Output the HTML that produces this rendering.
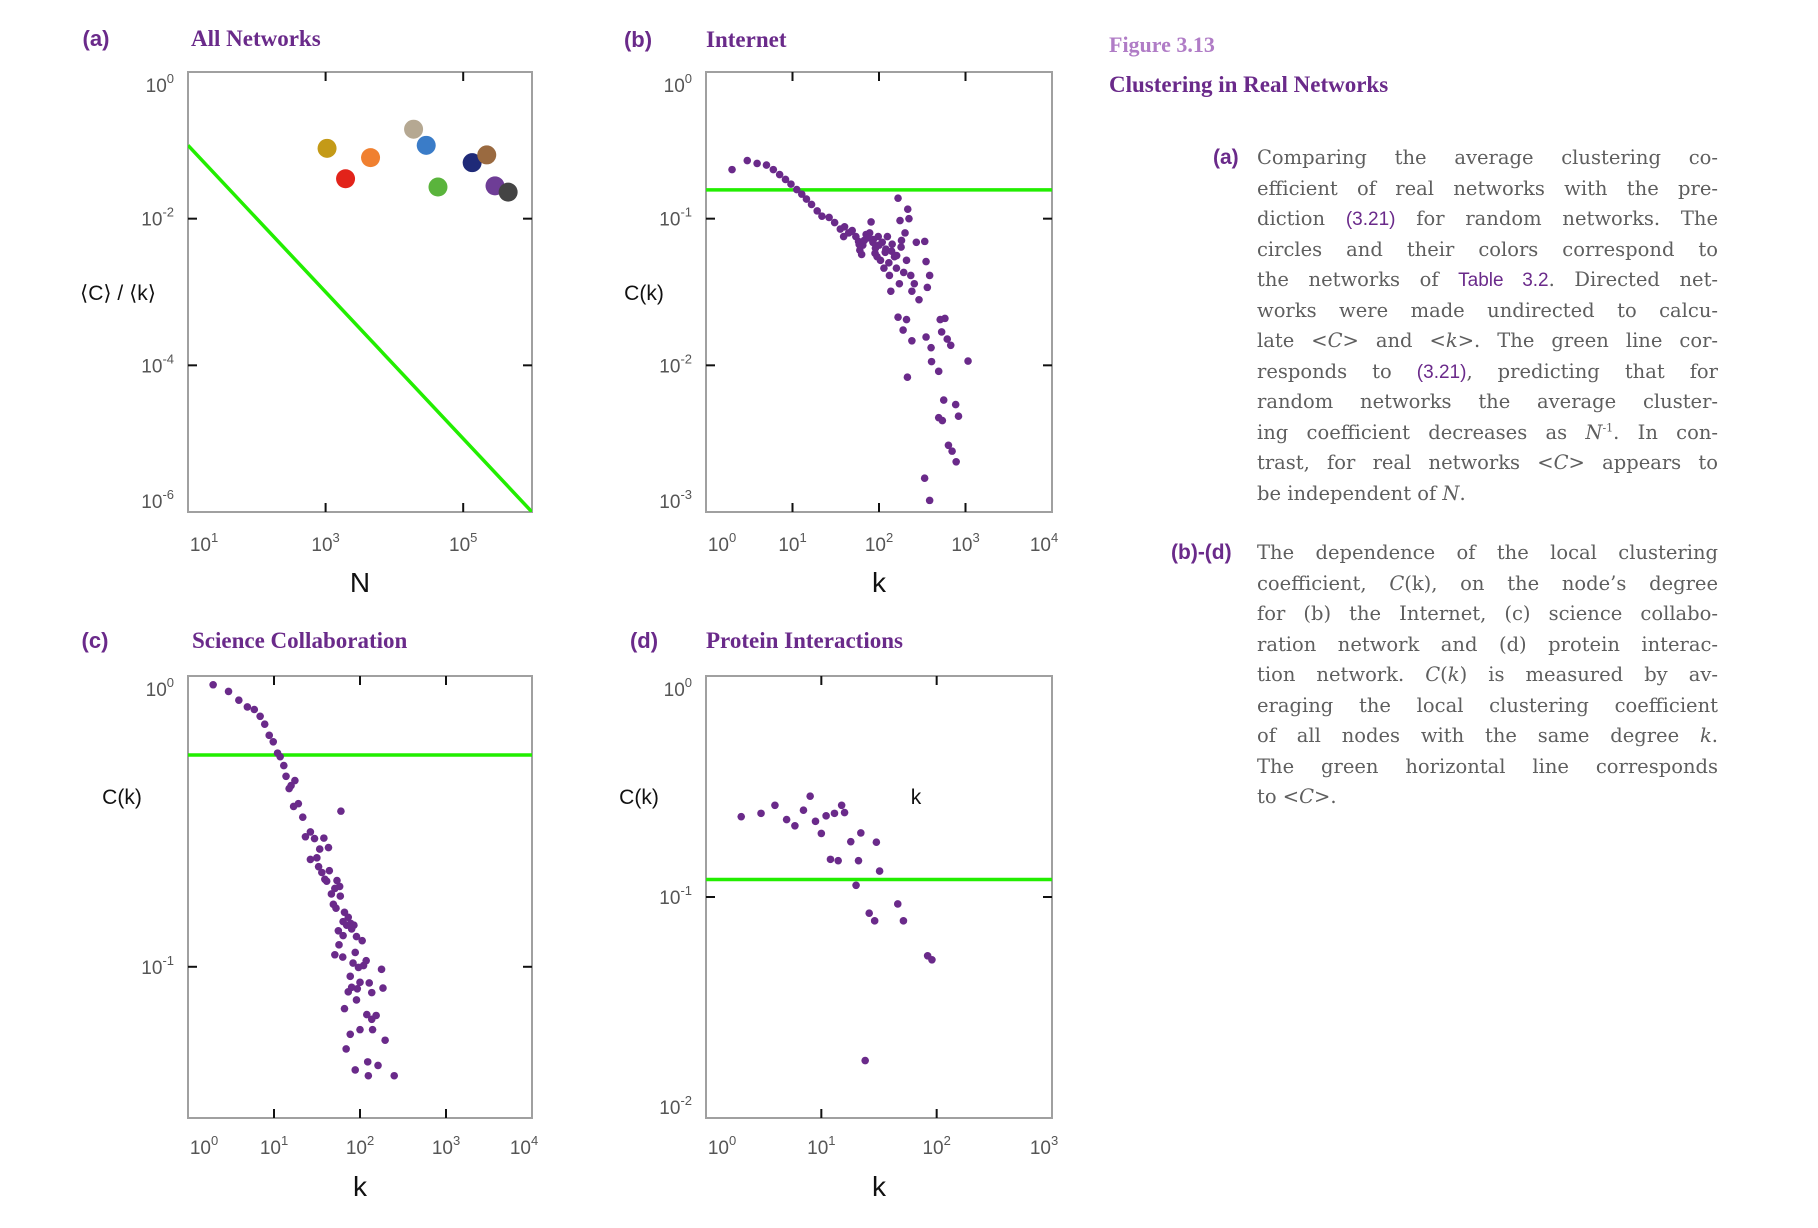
<!DOCTYPE html>
<html><head><meta charset="utf-8">
<style>
html,body{margin:0;padding:0;background:#fff;}
body{width:1818px;height:1228px;position:relative;overflow:hidden;}
svg text{font-family:"Liberation Sans",sans-serif;}
.cap{position:absolute;font-family:"DejaVu Serif",serif;color:#5e5e5e;font-size:19.5px;}
.ln{height:30.5px;line-height:30.5px;text-align:justify;text-align-last:justify;white-space:nowrap;}
.ln.last{text-align-last:left;}
.ln sup{line-height:0;font-size:11px;}
.p{color:#6a2a8a;font-family:"Liberation Sans",sans-serif;font-size:19px;}
</style></head>
<body>
<svg id="fig" width="1818" height="1228" style="position:absolute;left:0;top:0"></svg>

<div class="cap" style="left:1109px;top:32px;font-weight:bold;color:#b07cc6;font-size:22px;font-family:'Liberation Serif',serif;">Figure 3.13</div>
<div class="cap" style="left:1109px;top:72px;font-weight:bold;color:#6a2a8a;font-size:23px;font-family:'Liberation Serif',serif;">Clustering in Real Networks</div>

<div class="cap" style="left:1213px;top:143px;line-height:30.5px;color:#6a2a8a;font-family:'Liberation Sans',sans-serif;font-weight:bold;font-size:21px;">(a)</div>
<div class="cap" style="left:1257px;top:143px;width:461px;">
<div class="ln">Comparing the average clustering co-</div>
<div class="ln">efficient of real networks with the pre-</div>
<div class="ln">diction <span class="p">(3.21)</span> for random networks. The</div>
<div class="ln">circles and their colors correspond to</div>
<div class="ln">the networks of <span class="p">Table 3.2</span>. Directed net-</div>
<div class="ln">works were made undirected to calcu-</div>
<div class="ln">late &lt;<i>C</i>&gt; and &lt;<i>k</i>&gt;. The green line cor-</div>
<div class="ln">responds to <span class="p">(3.21)</span>, predicting that for</div>
<div class="ln">random networks the average cluster-</div>
<div class="ln">ing coefficient decreases as <i>N</i><sup>-1</sup>. In con-</div>
<div class="ln">trast, for real networks &lt;<i>C</i>&gt; appears to</div>
<div class="ln last">be independent of <i>N</i>.</div>
</div>

<div class="cap" style="left:1171px;top:538px;line-height:30.5px;color:#6a2a8a;font-family:'Liberation Sans',sans-serif;font-weight:bold;font-size:21px;">(b)-(d)</div>
<div class="cap" style="left:1257px;top:538px;width:461px;">
<div class="ln">The dependence of the local clustering</div>
<div class="ln">coefficient, <i>C</i>(k), on the node’s degree</div>
<div class="ln">for (b) the Internet, (c) science collabo-</div>
<div class="ln">ration network and (d) protein interac-</div>
<div class="ln">tion network. <i>C</i>(<i>k</i>) is measured by av-</div>
<div class="ln">eraging the local clustering coefficient</div>
<div class="ln">of all nodes with the same degree <i>k</i>.</div>
<div class="ln">The green horizontal line corresponds</div>
<div class="ln last">to &lt;<i>C</i>&gt;.</div>
</div>

<script>
// Panel (a): all networks
const netN = [1050, 1950, 4500, 19000, 29000, 43000, 135000, 220000, 290000, 450000];
const netCk = [0.091, 0.035, 0.068, 0.166, 0.100, 0.027, 0.058, 0.074, 0.028, 0.023];
const netColors = ['#c49a17','#e2231a','#f08030','#b5a892','#3a7cc8','#5ab43c','#1f2a78','#9a6a40','#6e3d96','#444444'];
// Panel (b): Internet
const inetK = [2.0,3.0,3.9,5.0,6.0,7.1,8.3,9.6,11.2,12.8,14.5,16.6,19.3,21.9,26.5,30.7,35.7,39,44.6,49,54,59,63,67.5,71,78,81,86,91,95,98,104,109,114,118,125,132,137,142,151,159,166,172,175,182,193,200,208,215,222,233,240,256,270,290,338,350,362,385,166,190,208,240,350,400,405,510,578,530,615,675,490,213,1070,560,770,490,540,830,635,700,780,337,385,40,48,58,65,75,85,100,120,140,160,180,60,90,130];
const inetC = [0.216,0.249,0.238,0.232,0.216,0.20,0.185,0.172,0.158,0.147,0.136,0.125,0.113,0.104,0.102,0.094,0.085,0.0755,0.080,0.083,0.0755,0.0667,0.057,0.071,0.078,0.080,0.095,0.072,0.063,0.055,0.0755,0.052,0.069,0.046,0.059,0.0755,0.041,0.032,0.067,0.055,0.046,0.138,0.036,0.097,0.071,0.043,0.080,0.052,0.116,0.100,0.041,0.032,0.036,0.069,0.028,0.070,0.051,0.034,0.041,0.0213,0.0174,0.0205,0.0147,0.0156,0.0132,0.0106,0.0205,0.0209,0.0169,0.0151,0.0137,0.0091,0.0083,0.0107,0.0058,0.0054,0.0044,0.0042,0.0045,0.00285,0.0026,0.0022,0.0017,0.0012,0.088,0.082,0.070,0.066,0.074,0.069,0.066,0.062,0.060,0.056,0.064,0.061,0.058,0.050];
const inetAvgC = 0.157;
// Panel (c): science collaboration
const sciK = [1.96,2.96,3.9,4.9,5.9,6.9,7.8,8.8,9.8,11,11.8,13,13.8,15,15.8,17.5,16.9,19.2,21.6,23.2,26.5,29.6,38,43,34,26.5,31.5,33,36,39,44,41,46.5,51,58,54,60,59,49,52.6,66,73,63.6,70,78,85,56,63.6,80,91,106,57,88,51,63,83,96,110,118,178,77,100,128,80,93,73,185,137,91,66,120,137,154,77,100,140,196,69,123,88,125,162,250];
const sciC = [0.933,0.885,0.826,0.783,0.767,0.727,0.683,0.625,0.594,0.543,0.528,0.492,0.452,0.410,0.42,0.437,0.356,0.364,0.327,0.280,0.291,0.276,0.277,0.257,0.254,0.234,0.237,0.221,0.211,0.20,0.214,0.197,0.178,0.186,0.189,0.198,0.343,0.175,0.164,0.159,0.154,0.148,0.143,0.139,0.141,0.139,0.133,0.128,0.135,0.127,0.123,0.119,0.112,0.110,0.108,0.103,0.0995,0.101,0.105,0.098,0.0927,0.0884,0.088,0.085,0.084,0.082,0.0845,0.0815,0.0769,0.0718,0.0685,0.066,0.068,0.0586,0.0608,0.0608,0.0559,0.0522,0.0471,0.0442,0.0422,0.0458,0.0422];
const sciAvgC = 0.535;
// Panel (d): protein interactions
const protK = [2.02,3.0,3.96,5.0,5.9,7.0,8.0,8.9,10,11,13,15,15.9,12,14,18,22,21,30,32,20,46,26,29,51.5,83.5,91,24];
const protC = [0.231,0.239,0.26,0.224,0.21,0.247,0.286,0.22,0.194,0.233,0.239,0.26,0.241,0.148,0.146,0.178,0.195,0.146,0.177,0.131,0.113,0.093,0.0845,0.078,0.078,0.0542,0.052,0.0182];
const protAvgC = 0.12;

const NS='http://www.w3.org/2000/svg';
const svg=document.getElementById('fig');
function mk(tag,attrs,parent){const e=document.createElementNS(NS,tag);for(const k in attrs)e.setAttribute(k,attrs[k]);(parent||svg).appendChild(e);return e;}
function powLabel(g,x,y,exp,anchor,name){
  const t=mk('text',{x:x,y:y,'text-anchor':anchor,'font-size':19,fill:'#555'},g);
  
  
  t.appendChild(document.createTextNode('10'));
  const s=mk('tspan',{dy:-9,'font-size':13},t);s.textContent=String(exp);
}
function panel(cfg){
  const g=mk('g',{});
  
  
  const step=cfg.step||1;
  const sx=v=>cfg.x0+(Math.log10(v)-cfg.lx0)/(cfg.lx1-cfg.lx0)*(cfg.x1-cfg.x0);
  const sy=v=>cfg.y0+(cfg.ly0-Math.log10(v))/(cfg.ly0-cfg.ly1)*(cfg.y1-cfg.y0);
  const fr=mk('rect',{x:cfg.x0,y:cfg.y0,width:cfg.x1-cfg.x0,height:cfg.y1-cfg.y0,fill:'none',stroke:'#a0a0a0','stroke-width':2},g);
  
  
  for(let e=Math.ceil(cfg.lx0);e<=cfg.lx1;e+=step){
    const x=sx(Math.pow(10,e));
    if(x>cfg.x0+3&&x<cfg.x1-3){
      mk('line',{x1:x,x2:x,y1:cfg.y0,y2:cfg.y0+9,stroke:'#111','stroke-width':2},g);
      mk('line',{x1:x,x2:x,y1:cfg.y1,y2:cfg.y1-9,stroke:'#111','stroke-width':2},g);
    }
    if(cfg.xlabs.indexOf(e)>=0){
      const lx=Math.min(Math.max(x,cfg.x0+16),cfg.x1-8);
      powLabel(g,lx,cfg.xly,e,'middle','x-tick-label');
    }
  }
  for(let e=Math.floor(cfg.ly0);e>=cfg.ly1-1e-9;e-=step){
    const y=sy(Math.pow(10,e));
    if(y>cfg.y0+3&&y<cfg.y1-3){
      mk('line',{x1:cfg.x0,x2:cfg.x0+9,y1:y,y2:y,stroke:'#111','stroke-width':2},g);
      mk('line',{x1:cfg.x1,x2:cfg.x1-9,y1:y,y2:y,stroke:'#111','stroke-width':2},g);
    }
    const ly=Math.min(Math.max(y+7,cfg.y0+20),cfg.y1-4);
    powLabel(g,cfg.x0-14,ly,e,'end','y-tick-label');
  }
  const cl=mk('clipPath',{id:'c'+cfg.name},g);
  mk('rect',{x:cfg.x0,y:cfg.y0,width:cfg.x1-cfg.x0,height:cfg.y1-cfg.y0},cl);
  const pg=mk('g',{'clip-path':'url(#c'+cfg.name+')'},g);
  cfg.draw(pg,sx,sy);
  const pl=mk('text',{x:cfg.plx,y:cfg.ply,'text-anchor':'middle','font-size':22,'font-weight':'bold',fill:'#6a2a8a','font-family':'Liberation Sans'},g);
  
  
  pl.textContent=cfg.letter;
  const tt=mk('text',{x:cfg.ttx,y:cfg.ply,'font-size':23,'font-weight':'bold',fill:'#6a2a8a',style:'font-family:"Liberation Serif",serif'},g);
  
  
  tt.textContent=cfg.title;
  const xt=mk('text',{x:(cfg.x0+cfg.x1)/2,y:cfg.xty,'text-anchor':'middle','font-size':28,fill:'#111'},g);
  
  
  xt.textContent=cfg.xtitle;
  const yt=mk('text',{x:cfg.ytx,y:cfg.yty,'text-anchor':'middle','font-size':21,fill:'#111'},g);
  
  
  yt.textContent=cfg.ytitle;
  return g;
}
function scatter(pg,sx,sy,xs,ys,name){
  for(let i=0;i<xs.length;i++){
    const c=mk('circle',{cx:sx(xs[i]),cy:sy(ys[i]),r:3.8,fill:'#6a2a8a'},pg);
    
    
  }
}
function hline(pg,sx,sy,v,x0,x1){
  const l=mk('line',{x1:x0,x2:x1,y1:sy(v),y2:sy(v),stroke:'#22ee00','stroke-width':3.5},pg);
  
  
}

panel({name:'panel-a',x0:188,x1:532,y0:72,y1:512,lx0:1,lx1:6,ly0:0,ly1:-6,step:2,xlabs:[1,3,5],xly:551,
  letter:'(a)',plx:96,ply:46,ttx:191,title:'All Networks',xtitle:'N',xty:592,ytitle:'⟨C⟩ / ⟨k⟩',ytx:118,yty:300,
  draw:(pg,sx,sy)=>{
    const l=mk('line',{x1:sx(10),y1:sy(1/10),x2:sx(1e6),y2:sy(1e-6),stroke:'#22ee00','stroke-width':3.5},pg);
    
    
    for(let i=0;i<netN.length;i++){
      const c=mk('circle',{cx:sx(netN[i]),cy:sy(netCk[i]),r:9.5,fill:netColors[i]},pg);
      
      
    }
  }});
panel({name:'panel-b',x0:706,x1:1052,y0:72,y1:512,lx0:0,lx1:4,ly0:0,ly1:-3,xlabs:[0,1,2,3,4],xly:551,
  letter:'(b)',plx:638,ply:47,ttx:706,title:'Internet',xtitle:'k',xty:592,ytitle:'C(k)',ytx:644,yty:300,
  draw:(pg,sx,sy)=>{hline(pg,sx,sy,inetAvgC,706,1052);scatter(pg,sx,sy,inetK,inetC,'internet-point');}});
panel({name:'panel-c',x0:188,x1:532,y0:676,y1:1118,lx0:0,lx1:4,ly0:0,ly1:-1.52,xlabs:[0,1,2,3,4],xly:1154,
  letter:'(c)',plx:95,ply:648,ttx:192,title:'Science Collaboration',xtitle:'k',xty:1196,ytitle:'C(k)',ytx:122,yty:804,
  draw:(pg,sx,sy)=>{hline(pg,sx,sy,sciAvgC,188,532);scatter(pg,sx,sy,sciK,sciC,'collaboration-point');}});
panel({name:'panel-d',x0:706,x1:1052,y0:676,y1:1118,lx0:0,lx1:3,ly0:0,ly1:-2,xlabs:[0,1,2,3],xly:1154,
  letter:'(d)',plx:644,ply:648,ttx:706,title:'Protein Interactions',xtitle:'k',xty:1196,ytitle:'C(k)',ytx:639,yty:804,
  draw:(pg,sx,sy)=>{hline(pg,sx,sy,protAvgC,706,1052);scatter(pg,sx,sy,protK,protC,'protein-point');}});
const stray=mk('text',{x:916,y:804,'text-anchor':'middle','font-size':21,fill:'#111'});


stray.textContent='k';
</script>
</body></html>
